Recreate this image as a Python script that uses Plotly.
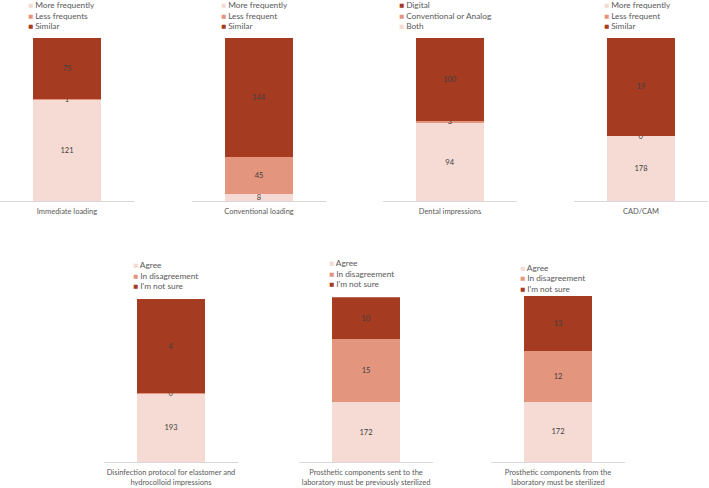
import plotly.graph_objects as go

W, H = 709, 488

categories = [
    "Immediate loading",
    "Conventional loading",
    "Dental impressions",
    "CAD/CAM",
    "Disinfection protocol for elastomer and<br>hydrocolloid impressions",
    "Prosthetic components sent to the<br>laboratory must be previously sterilized",
    "Prosthetic components from the<br>laboratory must be sterilized",
]

# printed counts (bottom / middle / top segment)
labels_bottom = [121, 8, 94, 178, 193, 172, 172]
labels_middle = [1, 45, 3, 0, 0, 15, 12]
labels_top = [75, 144, 100, 19, 4, 10, 13]

# segment shares of each bar (%) as drawn in the picture
share_bottom = [61.7, 4.1, 47.7, 39.6, 41.8, 36.4, 36.3]
share_middle = [0.5, 22.8, 1.5, 0.3, 0.3, 38.2, 30.7]
share_top = [37.8, 73.1, 50.8, 60.1, 57.9, 25.4, 33.0]

legend_texts = [
    ["More frequently", "Less frequents", "Similar"],
    ["More frequently", "Less frequent", "Similar"],
    ["Digital", "Conventional or Analog", "Both"],
    ["More frequently", "Less frequent", "Similar"],
    ["Agree", "In disagreement", "I'm not sure"],
    ["Agree", "In disagreement", "I'm not sure"],
    ["Agree", "In disagreement", "I'm not sure"],
]

LIGHT, MID, DARK = "#F6DBD4", "#E4957D", "#A53B21"
legend_colors = [
    [LIGHT, MID, DARK],
    [LIGHT, MID, DARK],
    [DARK, MID, LIGHT],
    [LIGHT, MID, DARK],
    [LIGHT, MID, DARK],
    [LIGHT, MID, DARK],
    [LIGHT, MID, DARK],
]

# layout geometry (pixels)
axis_x = [(0, 134), (192, 326), (383, 517), (574, 708), (104, 238), (299, 433), (491, 625)]
axis_y = [(37.7, 201), (37.7, 201), (37.7, 201), (37.7, 201), (299, 462), (297.3, 462), (295.7, 462)]
legend_pos = [
    (27.3, 5.2), (220, 5.2), (398.3, 5.2), (602.7, 5.2),
    (132.3, 265), (328.3, 263.3), (519.3, 267.7),
]
ROW = 10.5

FONT = "Lato, 'Open Sans', sans-serif"

fig = go.Figure()
layout = dict(
    width=W, height=H,
    margin=dict(l=0, r=0, t=0, b=0),
    paper_bgcolor="white", plot_bgcolor="white",
    showlegend=False, barmode="stack",
    font=dict(family=FONT, color="#595959"),
    uniformtext=dict(minsize=7.5, mode="show"),
)

annotations = []
for i, cat in enumerate(categories):
    k = "" if i == 0 else str(i + 1)
    xa, ya = "x" + k, "y" + k
    segs = [
        (share_bottom[i], labels_bottom[i], LIGHT),
        (share_middle[i], labels_middle[i], MID),
        (share_top[i], labels_top[i], DARK),
    ]
    for h, lab, col in segs:
        fig.add_trace(go.Bar(
            x=[cat], y=[h], text=[str(lab)],
            textposition="inside", insidetextanchor="middle", textangle=0,
            textfont=dict(size=7.5, color="#404040", family=FONT),
            marker=dict(color=col, line=dict(width=0)),
            width=0.51, xaxis=xa, yaxis=ya, hoverinfo="skip", cliponaxis=False,
        ))
    total = share_bottom[i] + share_middle[i] + share_top[i]
    x0, x1 = axis_x[i]
    y0, y1 = axis_y[i]
    layout["xaxis" + k] = dict(
        domain=[x0 / W, x1 / W], anchor=ya, type="category",
        range=[-0.5, 0.5], showline=True, linecolor="#D9D9D9", linewidth=1,
        ticks="", showgrid=False, zeroline=False, fixedrange=True,
        ticklabelstandoff=3,
        tickfont=dict(size=7.5, color="#595959", family=FONT),
    )
    layout["yaxis" + k] = dict(
        domain=[1 - y1 / H, 1 - y0 / H], anchor=xa, range=[0, total],
        visible=False, fixedrange=True,
    )
    lx, ly = legend_pos[i]
    for r in range(3):
        annotations.append(dict(
            xref="paper", yref="paper", x=lx / W, y=1 - (ly + r * ROW) / H,
            xanchor="left", yanchor="middle", showarrow=False,
            text=f"<span style='color:{legend_colors[i][r]}'>■</span> {legend_texts[i][r]}",
            font=dict(size=8.3, color="#595959", family=FONT),
            borderpad=0,
        ))

layout["annotations"] = annotations
fig.update_layout(**layout)
fig.write_html(
    "out.html",
    config={"staticPlot": True, "displayModeBar": False},
    post_script="document.body.style.margin='0';document.body.style.padding='0';",
)
